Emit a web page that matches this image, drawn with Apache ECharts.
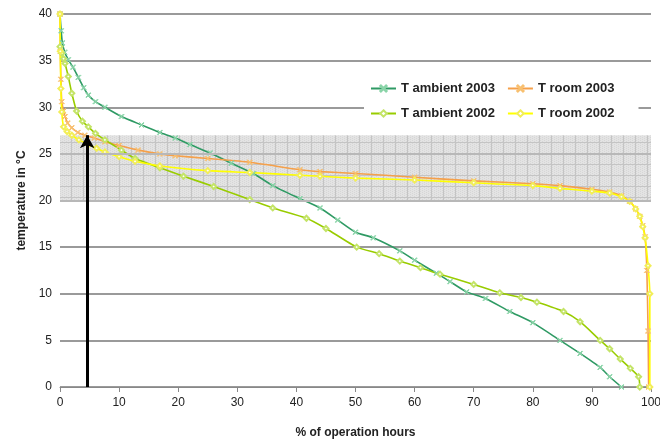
<!DOCTYPE html>
<html>
<head>
<meta charset="utf-8">
<script src="https://cdn.jsdelivr.net/npm/echarts@6/dist/echarts.min.js"></script>
<style>
  html, body { margin: 0; padding: 0; background: #fff; }
  #chart { width: 660px; height: 444px; }
</style>
</head>
<body>
<div id="chart"></div>
<script>
// 数据：横轴是运行小时百分比，纵轴是温度
var ambient2003X = [0, 0.2, 0.4, 0.8, 1.4, 2.2, 3.1, 4.0, 4.8, 6.0, 7.6, 10.4, 13.8, 16.9, 19.5, 22, 25.4, 29, 32.7, 36, 40.6, 44, 47, 50, 53, 57.5, 60, 63.7, 66, 68.8, 72, 76.1, 80, 84.6, 88, 91.4, 93, 95.0];
var ambient2003Y = [40, 38.2, 36.9, 35.9, 35.1, 34.3, 33.2, 32.1, 31.3, 30.6, 30.0, 29.0, 28.1, 27.3, 26.7, 26.0, 25.1, 24.0, 22.9, 21.6, 20.2, 19.2, 17.9, 16.6, 16.0, 14.6, 13.6, 12.2, 11.3, 10.2, 9.5, 8.1, 6.9, 5.0, 3.6, 2.1, 1.1, 0];

var ambient2002X = [0, 0.3, 0.6, 0.85, 1.4, 2.0, 2.8, 3.8, 4.8, 6.0, 7.6, 10.4, 12.7, 16.9, 20.9, 26, 32.1, 36, 41.7, 45, 50.2, 54, 57.5, 61, 64.3, 70, 74.4, 78, 80.7, 85.2, 88, 91.4, 93, 94.8, 96.5, 97.9, 98.1];
var ambient2002Y = [36.5, 35.8, 35.2, 34.7, 33.3, 31.5, 29.6, 28.5, 27.9, 27.2, 26.5, 25.4, 24.5, 23.5, 22.6, 21.5, 20.1, 19.2, 18.1, 17.0, 15.0, 14.3, 13.5, 12.8, 12.1, 11.0, 10.1, 9.6, 9.1, 8.1, 7.0, 5.0, 4.1, 3.0, 2.0, 1.1, 0];

var room2003X = [0, 0.05, 0.15, 0.3, 0.6, 0.85, 1.3, 2.0, 3.0, 4.2, 5.8, 7.6, 10, 13.2, 16.9, 19.5, 25, 32.1, 40.6, 44, 50, 60, 70, 80, 84.6, 90, 93, 95, 96.4, 97.4, 98.1, 98.6, 99.0, 99.3, 99.5, 99.6];
var room2003Y = [40, 36, 33, 30.6, 29.6, 29.0, 28.3, 27.8, 27.3, 27.0, 26.7, 26.3, 25.9, 25.4, 25.0, 24.8, 24.5, 24.1, 23.3, 23.1, 22.9, 22.5, 22.1, 21.8, 21.6, 21.2, 20.9, 20.5, 19.9, 19.1, 18.3, 17.3, 16.1, 12.5, 6, 0];

var room2002X = [0, 0.05, 0.15, 0.3, 0.6, 1.2, 2.0, 3.2, 4.8, 6.2, 7.6, 10, 12.7, 16.9, 25, 32.1, 40.6, 44, 50, 60, 70, 80, 84.6, 90, 93, 95, 96.4, 97.4, 98.1, 98.6, 99.0, 99.5, 99.8, 99.8];
var room2002Y = [40, 36, 32, 29.5, 27.9, 27.4, 27.0, 26.5, 26.0, 25.6, 25.2, 24.7, 24.2, 23.7, 23.2, 23.0, 22.7, 22.6, 22.4, 22.2, 21.9, 21.6, 21.3, 21.0, 20.8, 20.4, 19.9, 19.1, 18.3, 17.2, 16.0, 13, 10, 0];

var comfortBand = [20, 27];   // 灰色舒适区
var arrowX = 4.6;
var arrowTop = 27;

var xTicks = [0, 100, 10];
var yTicks = [0, 40, 5];

function zip(xs, ys) {
        var out = [];
        for (var i = 0; i < xs.length; i++) out.push([xs[i], ys[i]]);
        return out;
}

// 灰色网格图案
function bandPattern() {
        var c = document.createElement('canvas');
        c.width = 12; c.height = 11;
        var g = c.getContext('2d');
        g.fillStyle = '#e3e3e3';
        g.fillRect(0, 0, 12, 11);
        g.fillStyle = '#d6d6d6';
        for (var i = 0; i < 12; i += 2) for (var j = (i / 2) % 2; j < 11; j += 2) g.fillRect(i, j, 1, 1);
        g.fillStyle = '#c4c4c4';
        g.fillRect(11, 0, 1, 11);
        g.fillRect(0, 10, 12, 1);
        return { image: c, repeat: 'repeat' };
}

var crossSymbol = 'path://M0,1L1,0L5,4L9,0L10,1L6,5L10,9L9,10L5,6L1,10L0,9L4,5Z';

var chart = echarts.init(document.getElementById('chart'));

function lineSeries(name, data, color, symbol, markerColor) {
        return {
                name: name,
                type: 'line',
                data: data,
                smooth: 0.2,
                symbol: symbol,
                symbolSize: 5,
                showAllSymbol: true,
                lineStyle: { color: color, width: 1.6 },
                itemStyle: { color: markerColor, borderColor: markerColor, borderWidth: 1 },
                emphasis: { disabled: true },
                z: 3
        };
}

var option = {
        animation: false,
        textStyle: { fontFamily: 'Liberation Sans, Arial, sans-serif' },
        grid: { left: 60, right: 9, top: 14, bottom: 57, outerBoundsMode: 'none', containLabel: false },
        legend: {
                left: 364,
                top: 76,
                width: 270,
                padding: [6, 24, 6, 6],
                backgroundColor: '#fff',
                itemWidth: 25,
                itemHeight: 8,
                itemGap: 12,
                textStyle: { fontSize: 13, fontWeight: 'bold', color: '#222' },
                data: ['T ambient 2003', 'T room 2003', 'T ambient 2002', 'T room 2002']
        },
        xAxis: {
                type: 'value',
                min: xTicks[0], max: xTicks[1], interval: xTicks[2],
                name: '% of operation hours',
                nameLocation: 'middle',
                nameGap: 40,
                nameTextStyle: { fontSize: 12, fontWeight: 'bold', color: '#222' },
                axisLine: { lineStyle: { color: '#888', width: 1 } },
                axisTick: { show: true, length: 5, lineStyle: { color: '#888' } },
                axisLabel: { fontSize: 12, color: '#222', margin: 10 },
                splitLine: { show: false }
        },
        yAxis: {
                type: 'value',
                min: yTicks[0], max: yTicks[1], interval: yTicks[2],
                name: 'temperature in °C',
                nameLocation: 'middle',
                nameGap: 31,
                nameTextStyle: { fontSize: 12, fontWeight: 'bold', color: '#222' },
                axisLine: { show: false },
                axisTick: { show: false },
                axisLabel: { fontSize: 12, color: '#222', margin: 8 },
                splitLine: { lineStyle: { color: '#9a9a9a', width: 2 } }
        },
        series: [
                {
                        name: 'band',
                        type: 'line',
                        data: [],
                        silent: true,
                        z: 1,
                        markArea: {
                                silent: true,
                                itemStyle: { color: bandPattern() },
                                data: [[{ xAxis: xTicks[0], yAxis: comfortBand[0] }, { xAxis: xTicks[1], yAxis: comfortBand[1] }]]
                        },
                        markLine: {
                                silent: true,
                                symbol: 'none',
                                label: { show: false },
                                lineStyle: { color: '#b8b8b8', width: 2, type: 'solid' },
                                data: [{ yAxis: comfortBand[0] }, { yAxis: 25 }]
                        }
                },
                lineSeries('T ambient 2003', zip(ambient2003X, ambient2003Y), '#2f9a64', crossSymbol, '#8ad4a8'),
                lineSeries('T room 2003', zip(room2003X, room2003Y), '#f5a04a', crossSymbol, '#f8c070'),
                lineSeries('T ambient 2002', zip(ambient2002X, ambient2002Y), '#99cc00', 'emptyDiamond', '#c4e468'),
                lineSeries('T room 2002', zip(room2002X, room2002Y), '#ffff00', 'emptyDiamond', '#f2ee58'),
                {
                        name: 'arrow',
                        type: 'line',
                        data: [],
                        z: 5,
                        markLine: {
                                silent: true,
                                symbol: ['none', 'arrow'],
                                symbolSize: [11, 13],
                                label: { show: false },
                                lineStyle: { color: '#000', width: 3, type: 'solid' },
                                data: [[{ coord: [arrowX, 0] }, { coord: [arrowX, arrowTop] }]]
                        }
                }
        ]
};

chart.setOption(option);
</script>
</body>
</html>
